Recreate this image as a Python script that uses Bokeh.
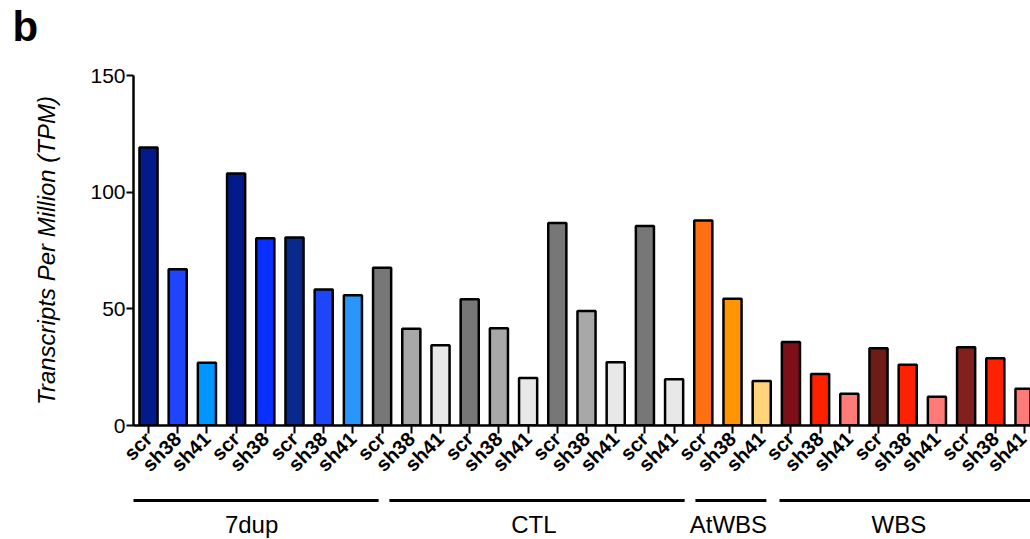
import math
from bokeh.plotting import figure
from bokeh.layouts import column
from bokeh.models import Range1d, FixedTicker, ColumnDataSource
from bokeh.core.properties import value
from bokeh.embed import file_html
from bokeh.resources import INLINE

# ---- data ----
labels = ["scr", "sh38", "sh41", "scr", "sh38", "scr", "sh38", "sh41",
          "scr", "sh38", "sh41", "scr", "sh38", "sh41", "scr", "sh38", "sh41", "scr", "sh41",
          "scr", "sh38", "sh41",
          "scr", "sh38", "sh41", "scr", "sh38", "sh41", "scr", "sh38", "sh41"]
tpm = [119.1, 67.0, 26.9, 108.0, 80.2, 80.6, 58.3, 55.8,
       67.6, 41.5, 34.4, 54.1, 41.7, 20.4, 86.8, 49.1, 27.1, 85.5, 19.8,
       87.9, 54.3, 19.1,
       35.8, 22.1, 13.6, 33.1, 26.0, 12.3, 33.5, 28.8, 15.7]
colors = ["#021a8a", "#1e45fb", "#0096ff", "#021a8a", "#0a30ff", "#082a8c", "#1e45f7", "#2896fa",
          "#777777", "#a8a8a8", "#e8e8e8", "#777777", "#a8a8a8", "#e8e8e8", "#777777", "#a8a8a8", "#e8e8e8", "#777777", "#e8e8e8",
          "#ff7012", "#ff9500", "#ffd47a",
          "#7d0f19", "#ff2200", "#ff7b78", "#6e1c16", "#ff2200", "#ff7b78", "#82201c", "#ff2200", "#ff7b78"]
groups = ["7dup", "CTL", "AtWBS", "WBS"]
group_line_start = [-0.62, 8.25, 18.73, 21.61]
group_line_end = [7.88, 18.36, 21.16, 31.5]
group_label_x = [3.53, 13.2, 19.86, 25.7]
y_ticks = [0, 50, 100, 150]

x = list(range(len(tpm)))
src = ColumnDataSource(dict(x=x, top=tpm, color=colors))

FONT = "Liberation Sans"
xr = Range1d(-0.514, 30.205)

# ---- top strip: panel letter as a title ----
t = figure(width=1030, height=65, output_backend="svg", toolbar_location=None,
           x_range=xr, y_range=Range1d(0, 1),
           x_axis_type=None, y_axis_type=None,
           min_border_left=133, min_border_right=0, min_border_top=0, min_border_bottom=0)
t.outline_line_color = None
t.grid.visible = False
t.title.text = "b"
t.title.text_font = FONT
t.title.text_font_style = "bold"
t.title.text_font_size = "42px"
t.title.text_color = "black"
t.title.align = "left"
t.title.offset = -121
t.title.standoff = 0

# ---- main chart ----
p = figure(width=1030, height=421, output_backend="svg", toolbar_location=None,
           x_range=xr, y_range=Range1d(0, 150),
           min_border_left=133, min_border_right=0, min_border_top=10, min_border_bottom=60)
p.outline_line_color = None
p.xgrid.visible = False
p.ygrid.visible = False

p.vbar(x="x", top="top", bottom=0, width=0.62, fill_color="color",
       line_color="black", line_width=2.5, source=src)

ya = p.yaxis[0]
ya.ticker = FixedTicker(ticks=y_ticks)
ya.minor_tick_line_color = None
ya.major_tick_in = 0
ya.major_tick_out = 7
ya.major_tick_line_width = 2
ya.axis_line_width = 2.5
ya.major_label_text_font = FONT
ya.major_label_text_font_size = "21px"
ya.major_label_text_color = "black"
ya.major_label_standoff = 1
ya.axis_label = "Transcripts Per Million (TPM)"
ya.axis_label_text_font = FONT
ya.axis_label_text_font_style = "italic"
ya.axis_label_text_font_size = "24px"
ya.axis_label_text_color = "black"
ya.axis_label_standoff = 27

xa = p.xaxis[0]
xa.ticker = FixedTicker(ticks=x)
xa.major_label_overrides = {i: l for i, l in enumerate(labels)}
xa.minor_tick_line_color = None
xa.major_tick_in = 0
xa.major_tick_out = 8
xa.major_tick_line_width = 2
xa.axis_line_width = 2.5
xa.major_label_orientation = math.pi / 4
xa.major_label_text_font = FONT
xa.major_label_text_font_style = "bold"
xa.major_label_text_font_size = "20px"
xa.major_label_text_color = "black"
xa.major_label_standoff = 2

# ---- group strip ----
g = figure(width=1030, height=53, output_backend="svg", toolbar_location=None,
           x_range=xr, y_range=Range1d(0, 53),
           x_axis_type=None, y_axis_type=None,
           min_border_left=133, min_border_right=0, min_border_top=0, min_border_bottom=0)
g.outline_line_color = None
g.grid.visible = False
gsrc = ColumnDataSource(dict(x0=group_line_start, x1=group_line_end,
                             lx=group_label_x, name=groups))
g.segment(x0="x0", x1="x1", y0=39, y1=39, line_color="black", line_width=3, source=gsrc)
g.text(x="lx", y=15, text="name", text_font=value(FONT), text_font_size="24px",
       text_align="center", text_baseline="alphabetic", text_color="black", source=gsrc)

layout = column(t, p, g, spacing=0)
open("out.html", "w").write(file_html(layout, INLINE))
